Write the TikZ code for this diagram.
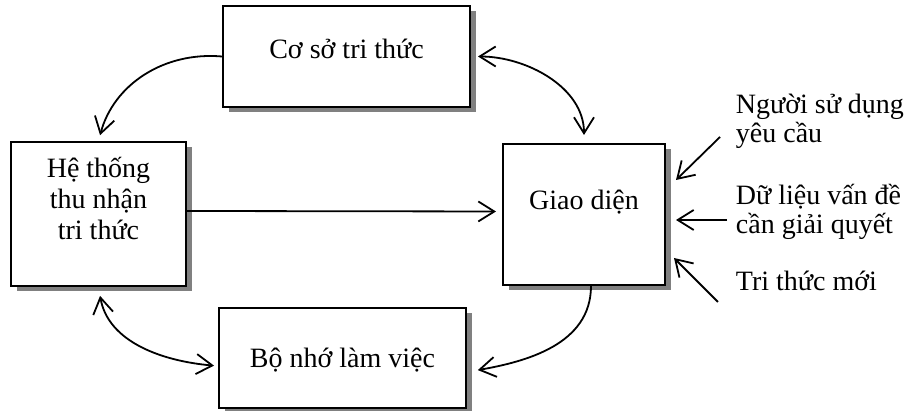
\documentclass[tikz,border=0pt]{standalone}
\usepackage{fontspec}
\setmainfont{Liberation Serif}
\usetikzlibrary{arrows.meta,shadows}
\begin{document}
\begin{tikzpicture}[x=0.5pt,y=0.5pt,font=\fontsize{14}{15.5}\selectfont,
    >={Straight Barb[length=8pt,width=10pt]},line width=0.9pt]
    \tikzstyle{box}=[rectangle,draw,line width=1pt,fill=white,align=center,inner sep=0pt,
      drop shadow={shadow xshift=2.75pt,shadow yshift=-2.75pt,fill=gray,opacity=1}]
    \tikzstyle{note}=[align=left,anchor=base west,inner sep=0pt,font=\fontsize{14}{14.5}\selectfont]
    \useasboundingbox (0,0) rectangle (906,411);

      \node (KB) at (346.5, 354.5) [box, minimum width=123.5pt, minimum height=50.5pt, text height=8pt, text depth=6pt] {Cơ sở tri thức};
      \node (HT) at (98.5, 197) [box, minimum width=87.5pt, minimum height=72pt, text height=41pt, text depth=15pt] {Hệ thống\\thu nhận\\tri thức};
      \node (GD) at (584, 196.5) [box, minimum width=81pt, minimum height=70.5pt, text height=8pt, text depth=12.5pt] {Giao diện};
      \node (BN) at (342.5, 53) [box, minimum width=123.5pt, minimum height=50pt, text height=10pt, text depth=0pt] {Bộ nhớ làm việc};

      \node (user) at (735, 268) [note] {Người sử dụng\\yêu cầu};
      \node (data) at (735, 177) [note] {Dữ liệu vấn đề\\cần giải quyết};
      \node (new) at (735, 120) [note] {Tri thức mới};
      \coordinate (u0) at (720, 274);
      \coordinate (d0) at (727, 191);
      \coordinate (n0) at (718, 109);

      \path (KB.west) edge [->,out=175,in=75,shorten >=3pt] (HT.north);
      \path (KB.east) edge [<->,out=0,in=90,shorten <=3.5pt,shorten >=4pt] (GD.north);
      \path ([yshift=1.5pt]HT.east) edge [->,shorten >=3pt] ([yshift=1.5pt]GD.west);
      \path (HT.south) edge [<->,out=-80,in=175,shorten <=4.5pt,shorten >=2pt] ([yshift=-4pt]BN.west);
      \path ([xshift=3.5pt]GD.south) edge [->,out=-90,in=10,shorten >=5.5pt] ([yshift=-7pt]BN.east);

      \path (u0) edge [->] ([shift={(5pt,17.25pt)}]GD.east);
      \path (d0) edge [->] ([shift={(5pt,-2.75pt)}]GD.east);
      \path (n0) edge [->] ([shift={(4pt,-21.75pt)}]GD.east);
  \end{tikzpicture}
\end{document}
